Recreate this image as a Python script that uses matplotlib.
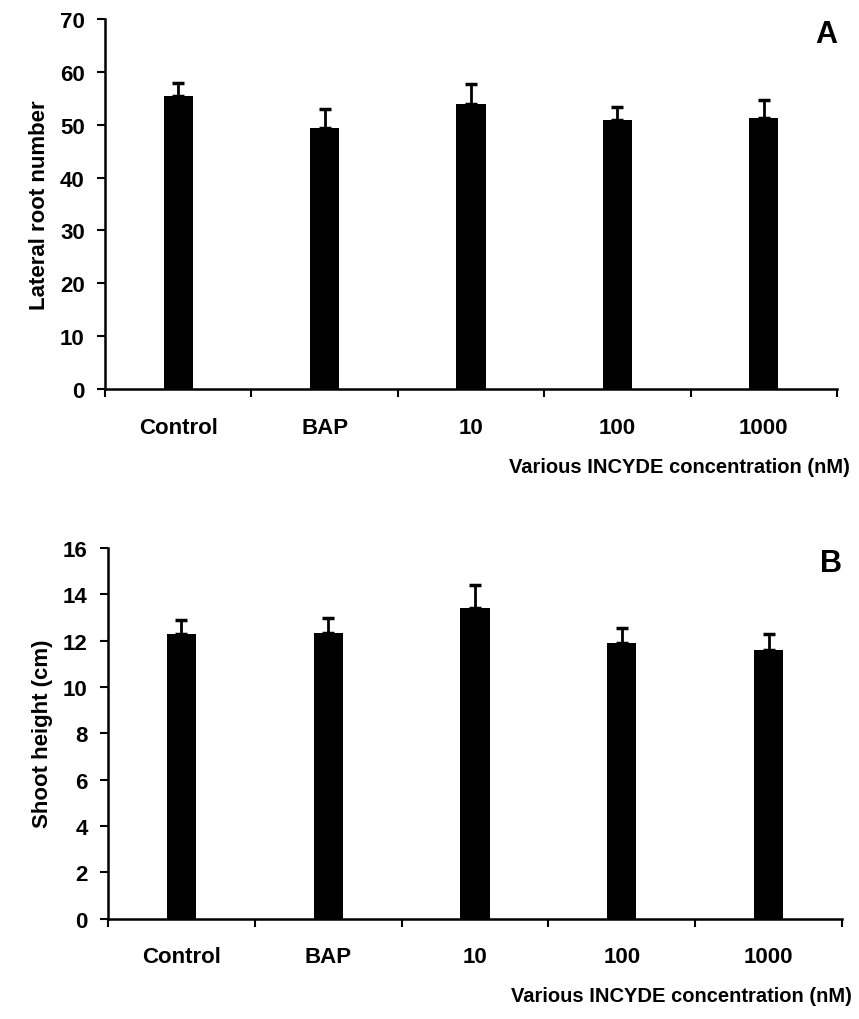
import matplotlib.pyplot as plt
import numpy as np

plt.rcParams['font.family'] = ['Liberation Sans', 'DejaVu Sans']
plt.rcParams['font.weight'] = 'bold'

categories = ['Control', 'BAP', '10', '100', '1000']
lateral_roots = [55.4, 49.3, 54.0, 50.8, 51.3]
lateral_err = [2.4, 3.7, 3.7, 2.5, 3.4]
shoot_height = [12.27, 12.32, 13.4, 11.9, 11.6]
shoot_err = [0.6, 0.66, 1.0, 0.65, 0.7]
xlabel = 'Various INCYDE concentration (nM)'

fig = plt.figure(figsize=(8.59, 10.2), dpi=100)
ax1 = fig.add_axes([0.1222, 0.6176, 0.8522, 0.3628])
ax2 = fig.add_axes([0.1257, 0.0985, 0.8545, 0.3633])


def draw(ax, vals, errs, ylim, step, ylabel, letter, xl_right):
    x = np.arange(len(categories)) + 0.5
    ax.bar(x, vals, width=0.2, color='black', zorder=2)
    ax.errorbar(x, vals, yerr=[np.zeros(len(errs)), errs], fmt='none',
                ecolor='black', elinewidth=2, capsize=4.5, capthick=2.5, zorder=1)
    ax.set_xlim(0, len(categories))
    ax.set_ylim(0, ylim)
    ax.set_yticks(np.arange(0, ylim + 0.1, step))
    ax.set_xticks(np.arange(0, len(categories) + 1))
    ax.set_xticklabels([])
    ax.set_xticks(x, minor=True)
    ax.set_xticklabels(categories, minor=True, fontsize=16, fontweight='bold')
    ax.tick_params(axis='x', which='minor', length=0, pad=20)
    ax.tick_params(axis='x', which='major', length=5.5, width=1.5, direction='out')
    ax.tick_params(axis='y', length=5.5, width=1.5, labelsize=16, pad=9)
    for lab in ax.get_yticklabels():
        lab.set_fontweight('bold')
    for s in ['top', 'right']:
        ax.spines[s].set_visible(False)
    for s in ['left', 'bottom']:
        ax.spines[s].set_linewidth(1.8)
    ax.set_ylabel(ylabel, fontsize=16, fontweight='bold', labelpad=7)
    ax.text(1.0, 1.0, letter, transform=ax.transAxes, ha='right', va='top',
            fontsize=22, fontweight='bold')
    ax.text(xl_right, -0.183, xlabel, transform=ax.transAxes, ha='right', va='top',
            fontsize=14.5, fontweight='bold')


draw(ax1, lateral_roots, lateral_err, 70, 10, 'Lateral root number', 'A', 1.018)
draw(ax2, shoot_height, shoot_err, 16, 2, 'Shoot height (cm)', 'B', 1.013)

fig.savefig('out.png', dpi=100)
